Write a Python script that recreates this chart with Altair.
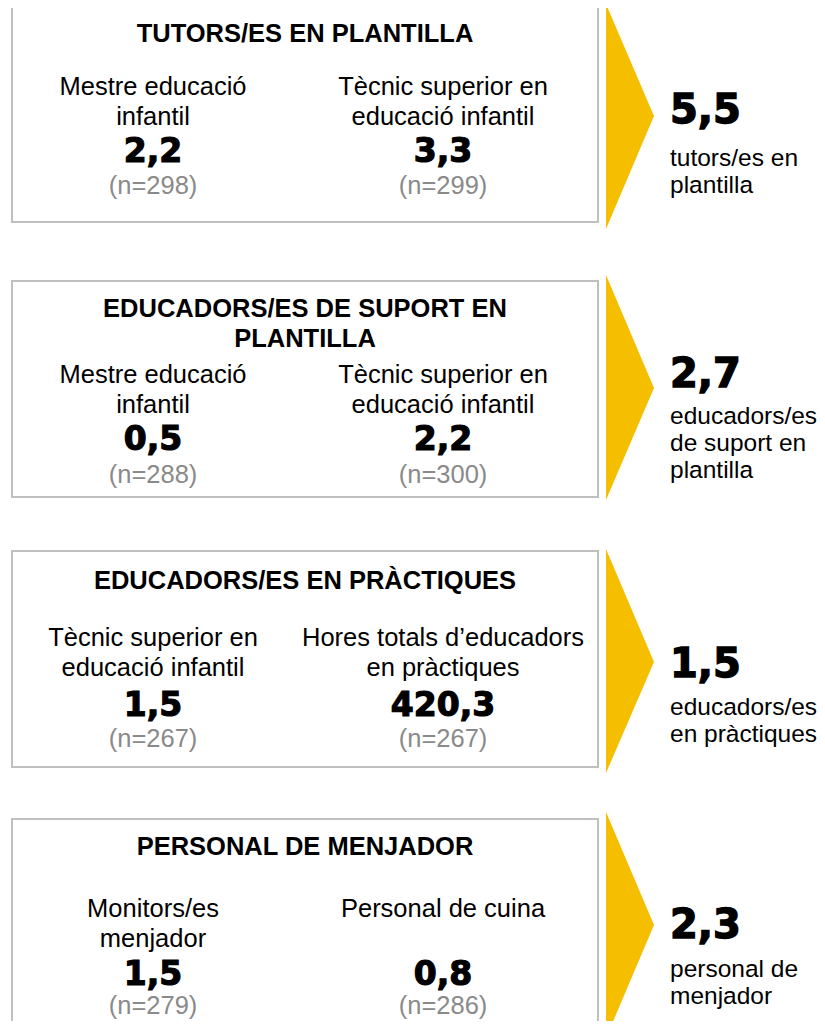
import altair as alt
import pandas as pd

# ---------------- content ----------------
titles = [
    "TUTORS/ES EN PLANTILLA",
    "EDUCADORS/ES DE SUPORT EN\nPLANTILLA",
    "EDUCADORS/ES EN PRÀCTIQUES",
    "PERSONAL DE MENJADOR",
]
left_labels = [
    "Mestre educació\ninfantil",
    "Mestre educació\ninfantil",
    "Tècnic superior en\neducació infantil",
    "Monitors/es\nmenjador",
]
left_values = [2.2, 0.5, 1.5, 1.5]
left_n = [298, 288, 267, 279]
right_labels = [
    "Tècnic superior en\neducació infantil",
    "Tècnic superior en\neducació infantil",
    "Hores totals d’educadors\nen pràctiques",
    "Personal de cuina",
]
right_values = [3.3, 2.2, 420.3, 0.8]
right_n = [299, 300, 267, 286]
totals = [5.5, 2.7, 1.5, 2.3]
total_labels = [
    "tutors/es en\nplantilla",
    "educadors/es\nde suport en\nplantilla",
    "educadors/es\nen pràctiques",
    "personal de\nmenjador",
]

# ---------------- layout (page pixels) ----------------
W, H, M = 825, 1029, 8
BOX_L, BOX_R = 12, 598
COL_L, COL_R, COL_MID = 153, 443, 305
TRI_L, TRI_R = 606, 654
TOT_X = 670
box_top = [7, 281, 551, 819]
box_bot = [222, 497, 767, 1045]
tri_top = [4, 275, 549, 812]
tri_tip = [116, 388, 662, 925]
tri_bot = [229, 500, 773, 1038]
title_y = [42, 317, 589, 855]
label_y = [95, 383, 646, 917]
num_y = [162, 450, 716, 985]
n_y = [194, 483, 747, 1014]
total_y = [123, 387, 677, 938]
total_label_y = [166, 424, 715, 977]

YELLOW = "#F5BF00"
GREY_BORDER = "#BFBFBF"
GREY_TEXT = "#8A8A8A"


def fmt(v):
    return f"{v:.1f}".replace(".", ",")


PW, PH = W - 2 * M, H - 2 * M  # plot fits the page without overflow
xs = alt.Scale(domain=[M, M + PW], nice=False, zero=False)
ys = alt.Scale(domain=[M, M + PH], nice=False, zero=False, reverse=True)

X = lambda f: alt.X(f, type="quantitative", scale=xs, axis=None)
Y = lambda f: alt.Y(f, type="quantitative", scale=ys, axis=None)

# boxes
boxes = pd.DataFrame({
    "x": [BOX_L] * 4, "x2": [BOX_R] * 4, "y": box_top, "y2": box_bot,
})
box_layer = alt.Chart(boxes).mark_rect(
    fill="white", stroke=GREY_BORDER, strokeWidth=2
).encode(x=X("x"), x2="x2", y=Y("y"), y2="y2")

# arrows (triangles)
tri_rows = []
for i in range(4):
    tri_rows.append({"p": i, "x": TRI_L, "y": tri_top[i], "y2": tri_bot[i]})
    tri_rows.append({"p": i, "x": TRI_R, "y": tri_tip[i], "y2": tri_tip[i]})
tri = pd.DataFrame(tri_rows)
tri_layer = alt.Chart(tri).mark_area(
    color=YELLOW, orient="vertical", interpolate="linear"
).encode(x=X("x"), y=Y("y"), y2="y2", detail="p:N")

# titles
t_df = pd.DataFrame({"x": [COL_MID] * 4, "y": title_y, "t": titles})
title_layer = alt.Chart(t_df).mark_text(
    font="Liberation Sans", fontWeight="bold", fontSize=25.5, color="black",
    align="center", baseline="alphabetic", lineBreak="\n", lineHeight=30,
).encode(x=X("x"), y=Y("y"), text="t:N")

# column labels
lab_df = pd.DataFrame({
    "x": [COL_L] * 4 + [COL_R] * 4,
    "y": label_y + label_y,
    "t": left_labels + right_labels,
})
label_layer = alt.Chart(lab_df).mark_text(
    font="Liberation Sans", fontSize=25.5, color="black",
    align="center", baseline="alphabetic", lineBreak="\n", lineHeight=30,
).encode(x=X("x"), y=Y("y"), text="t:N")

# values
val_df = pd.DataFrame({
    "x": [COL_L] * 4 + [COL_R] * 4,
    "y": num_y + num_y,
    "t": [fmt(v) for v in left_values + right_values],
})
val_layer = alt.Chart(val_df).mark_text(
    font="DejaVu Sans", fontWeight="bold", fontSize=33, color="black",
    stroke="black", strokeWidth=1.2,
    align="center", baseline="alphabetic",
).encode(x=X("x"), y=Y("y"), text="t:N")

# n
n_df = pd.DataFrame({
    "x": [COL_L] * 4 + [COL_R] * 4,
    "y": n_y + n_y,
    "t": [f"(n={n})" for n in left_n + right_n],
})
n_layer = alt.Chart(n_df).mark_text(
    font="Liberation Sans", fontSize=25.5, color=GREY_TEXT,
    align="center", baseline="alphabetic",
).encode(x=X("x"), y=Y("y"), text="t:N")

# totals
tot_df = pd.DataFrame({"x": [TOT_X] * 4, "y": total_y, "t": [fmt(v) for v in totals]})
tot_layer = alt.Chart(tot_df).mark_text(
    font="DejaVu Sans", fontWeight="bold", fontSize=40, color="black",
    stroke="black", strokeWidth=1.4,
    align="left", baseline="alphabetic",
).encode(x=X("x"), y=Y("y"), text="t:N")

totl_df = pd.DataFrame({"x": [TOT_X] * 4, "y": total_label_y, "t": total_labels})
totl_layer = alt.Chart(totl_df).mark_text(
    font="Liberation Sans", fontSize=24.5, color="black",
    align="left", baseline="alphabetic", lineBreak="\n", lineHeight=27,
).encode(x=X("x"), y=Y("y"), text="t:N")

chart = alt.layer(
    box_layer, tri_layer, title_layer, label_layer, val_layer, n_layer,
    tot_layer, totl_layer,
).properties(
    width=PW, height=PH, padding=0, autosize="none", background="white",
).configure_view(stroke=None)

chart.save("out.html", embed_options={"renderer": "svg", "actions": False})
